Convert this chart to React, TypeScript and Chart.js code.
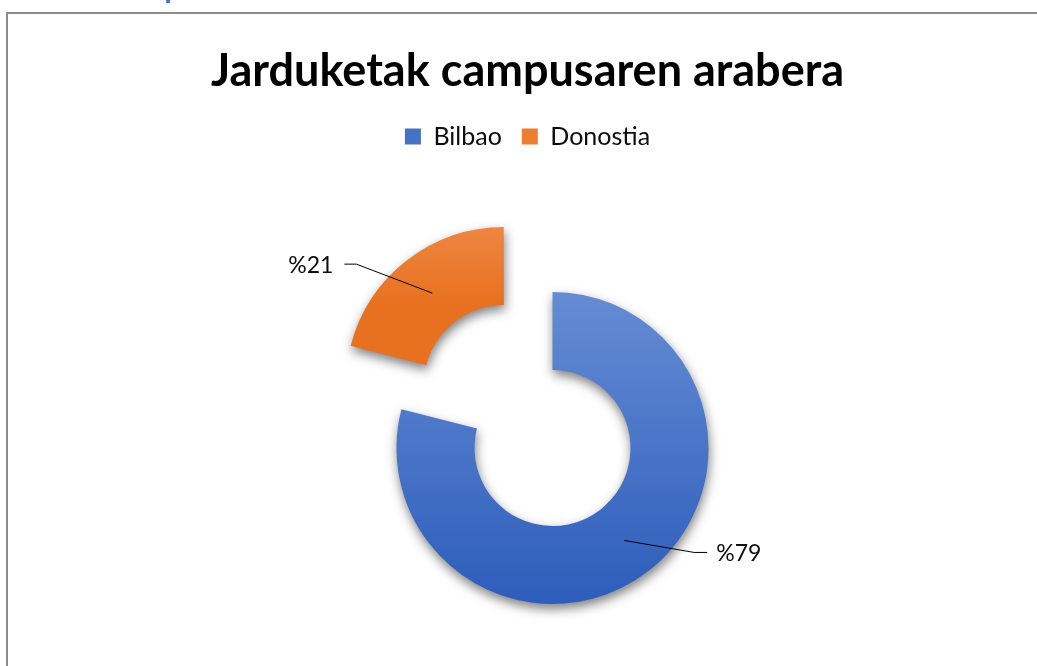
import React, { useEffect, useRef } from 'react';
import { Chart, registerables, layouts } from 'chart.js';

Chart.register(...registerables);

// ---- data ----
const campuses = ['Bilbao', 'Donostia'];
const shares = [79, 21];
const labelPrefix = '%';
const chartTitle = 'Jarduketak campusaren arabera';
const pageHeading = 'Campusaren araberako banaketa';

// ---- style ----
const topShade = ['#658cd4', '#f2955c'];
const bottomShade = ['#2d5dbb', '#e8711f'];
const legendSwatch = ['#4472c4', '#ed7d31'];
const explodeOffsets = [0, 316];
const RING_RADIUS = 156;
const CUTOUT = 0.5;
const FONT = 'Lato, "Open Sans", sans-serif';

function sliceGradient(c: any) {
  const chart = c.chart;
  const area = chart.chartArea;
  const i = c.dataIndex;
  if (!area) return legendSwatch[i];
  const total = shares.reduce((a, b) => a + b, 0);
  const before = shares.slice(0, i).reduce((a, b) => a + b, 0);
  const a0 = -Math.PI / 2 + (before / total) * 2 * Math.PI;
  const a1 = a0 + (shares[i] / total) * 2 * Math.PI;
  const cy = (area.top + area.bottom) / 2;
  const mid = (a0 + a1) / 2;
  const oy = Math.sin(mid) * (explodeOffsets[i] / 4);
  let ymin = Infinity;
  let ymax = -Infinity;
  for (let k = 0; k <= 60; k++) {
    const a = a0 + ((a1 - a0) * k) / 60;
    for (const rr of [RING_RADIUS * CUTOUT, RING_RADIUS]) {
      const y = cy + oy + Math.sin(a) * rr;
      ymin = Math.min(ymin, y);
      ymax = Math.max(ymax, y);
    }
  }
  const g = chart.ctx.createLinearGradient(0, ymin, 0, ymax);
  g.addColorStop(0, topShade[i]);
  g.addColorStop(1, bottomShade[i]);
  return g;
}

// a left spacer box so the ring sits right of the title's centre
const plotShift = {
  id: 'plotShift',
  beforeInit(chart: any) {
    const box: any = {
      position: 'left',
      weight: 100,
      fullSize: false,
      options: { stackWeight: 1 },
      left: 0, top: 0, right: 0, bottom: 0, width: 0, height: 0,
      isHorizontal: () => false,
      update(_mw: number, mh: number) {
        box.width = 50;
        box.height = mh;
      },
      draw() {},
    };
    layouts.addBox(chart, box);
  },
};

const softShadow = {
  id: 'softShadow',
  beforeDatasetsDraw(chart: any) {
    const c = chart.ctx;
    c.save();
    c.shadowColor = 'rgba(0,0,0,0.5)';
    c.shadowBlur = 11;
    c.shadowOffsetX = 1;
    c.shadowOffsetY = 5;
  },
  afterDatasetsDraw(chart: any) {
    chart.ctx.restore();
  },
};

const leaderLabels = {
  id: 'leaderLabels',
  afterDraw(chart: any) {
    const meta = chart.getDatasetMeta(0);
    const ctx = chart.ctx;
    const bends = [[70, 12], [-76, -29]];
    const tails = [13, 12];
    const gaps = [9, 11];
    ctx.save();
    ctx.strokeStyle = '#000';
    ctx.lineWidth = 1;
    ctx.fillStyle = '#0d0d0d';
    ctx.font = `23px ${FONT}`;
    ctx.textBaseline = 'middle';
    meta.data.forEach((arc: any, i: number) => {
      const p = arc.getProps(['x', 'y', 'startAngle', 'endAngle', 'innerRadius', 'outerRadius'], true);
      const off = (arc.options.offset || 0) / 4;
      const mid = (p.startAngle + p.endAngle) / 2;
      const cx = p.x + Math.cos(mid) * off;
      const cy = p.y + Math.sin(mid) * off;
      const r = (p.innerRadius + p.outerRadius) / 2;
      const ax = cx + Math.cos(mid) * r;
      const ay = cy + Math.sin(mid) * r;
      const side = Math.cos(mid) >= 0 ? 1 : -1;
      const bx = ax + bends[i][0];
      const by = ay + bends[i][1];
      const ex = bx + side * tails[i];
      ctx.beginPath();
      ctx.moveTo(ax, ay);
      ctx.lineTo(bx, by);
      ctx.lineTo(ex, by);
      ctx.stroke();
      ctx.textAlign = side > 0 ? 'left' : 'right';
      ctx.fillText(labelPrefix + shares[i], ex + side * gaps[i], by + 1);
    });
    ctx.restore();
  },
};

export default function App() {
  const ref = useRef<HTMLCanvasElement | null>(null);

  useEffect(() => {
    if (!ref.current) return;
    const chart = new Chart(ref.current, {
      type: 'doughnut',
      data: {
        labels: campuses,
        datasets: [
          {
            data: shares,
            backgroundColor: sliceGradient as any,
            borderWidth: 0,
            offset: explodeOffsets,
          } as any,
        ],
      },
      options: {
        responsive: false,
        animation: false,
        radius: RING_RADIUS,
        cutout: `${CUTOUT * 100}%`,
        layout: { padding: 0 },
        plugins: {
          tooltip: { enabled: false },
          title: {
            display: true,
            text: chartTitle,
            color: '#000',
            font: { family: FONT, size: 45, weight: 'bold', lineHeight: 1.2 },
            padding: { top: 30, bottom: 6 },
          },
          legend: {
            display: true,
            position: 'top',
            labels: {
              color: '#0d0d0d',
              font: { family: FONT, size: 25 },
              boxWidth: 16,
              boxHeight: 16,
              padding: 20,
              generateLabels: (ch: any) => {
                const items = (Chart as any).overrides.doughnut.plugins.legend.labels.generateLabels(ch);
                return items.map((it: any, i: number) => ({
                  ...it,
                  fillStyle: legendSwatch[i],
                  strokeStyle: legendSwatch[i],
                  lineWidth: 0,
                }));
              },
            },
          },
        },
      } as any,
      plugins: [plotShift, softShadow, leaderLabels],
    });
    return () => chart.destroy();
  }, []);

  return (
    <div
      style={{
        position: 'fixed',
        left: 0,
        top: 0,
        width: 1037,
        height: 666,
        overflow: 'hidden',
        background: '#fff',
      }}
    >
      <div
        style={{
          position: 'absolute',
          left: 104,
          top: -29,
          font: `bold 30px ${FONT}`,
          lineHeight: '30px',
          color: '#4472c4',
          whiteSpace: 'nowrap',
        }}
      >
        {pageHeading}
      </div>
      <div
        style={{
          position: 'absolute',
          left: 6,
          top: 12,
          width: 1100,
          height: 780,
          boxSizing: 'border-box',
          borderTop: '2px solid #8c8c8c',
          borderLeft: '2px solid #8c8c8c',
          background: '#fff',
        }}
      >
        <canvas
          ref={ref}
          width={1039}
          height={723}
          style={{ position: 'absolute', left: 0, top: 0, width: 1039, height: 723 }}
        />
      </div>
    </div>
  );
}
